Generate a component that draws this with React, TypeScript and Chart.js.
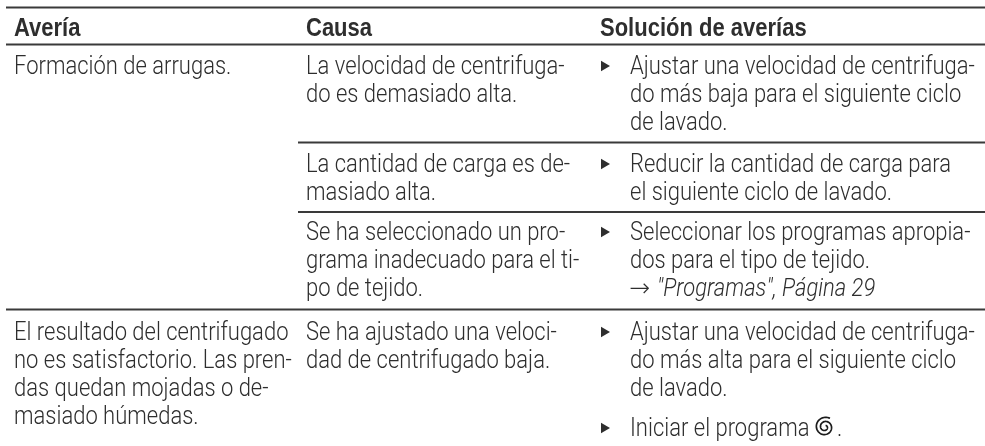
import React, { useEffect, useRef } from "react";
import { Chart, registerables } from "chart.js";

Chart.register(...registerables);

const headers = ["Avería", "Causa", "Solución de averías"];
const faultA = ["Formación de arrugas."];
const faultB = [
  "El resultado del centrifugado",
  "no es satisfactorio. Las pren-",
  "das quedan mojadas o de-",
  "masiado húmedas.",
];
const causes = [
  ["La velocidad de centrifuga-", "do es demasiado alta."],
  ["La cantidad de carga es de-", "masiado alta."],
  ["Se ha seleccionado un pro-", "grama inadecuado para el ti-", "po de tejido."],
  ["Se ha ajustado una veloci-", "dad de centrifugado baja."],
];
const fixes = [
  ["Ajustar una velocidad de centrifuga-", "do más baja para el siguiente ciclo", "de lavado."],
  ["Reducir la cantidad de carga para", "el siguiente ciclo de lavado."],
  ["Seleccionar los programas apropia-", "dos para el tipo de tejido."],
  ["Ajustar una velocidad de centrifuga-", "do más alta para el siguiente ciclo", "de lavado."],
  ["Iniciar el programa"],
];
const crossRef = "\"Programas\", Página 29";
const arrow = "→";

const RULE_COLOR = "#3a3a3a";
const TEXT_COLOR = "#2e2e2e";
const LIGHT = "300 25px Roboto";
const BOLD = "700 25px 'Liberation Sans', Arial";
const ITALIC = "italic 300 25px Roboto";
const ARROW_FONT = "200 25px 'DejaVu Sans'";
const SX_LIGHT = 0.88;
const SX_BOLD = 0.88;
const LH = 28;
const COLS = [14, 306, 630];
const HEAD_X = [14, 306, 600];
const BULLET_X = 604;
const BASE = [74, 172, 240, 340, 436];

function App() {
  const ref = useRef<HTMLCanvasElement>(null);
  useEffect(() => {
    document.body.style.margin = "0";
    const text = (c: any, s: string, x: number, y: number, font: string, sx: number) => {
      const ctx = c.ctx;
      const px = c.scales.x.getPixelForValue(x);
      const py = c.scales.y.getPixelForValue(y);
      ctx.save();
      ctx.font = font;
      ctx.fillStyle = TEXT_COLOR;
      ctx.textBaseline = "alphabetic";
      ctx.translate(px, py);
      ctx.scale(sx, 1);
      ctx.fillText(s, 0, 0);
      ctx.restore();
    };
    const block = (c: any, lines: string[], x: number, y: number) =>
      lines.forEach((s, i) => text(c, s, x, y + i * LH, LIGHT, SX_LIGHT));
    const tablePlugin = {
      id: "tableText",
      afterDatasetsDraw(c: any) {
        headers.forEach((h, i) => text(c, h, HEAD_X[i], 36, BOLD, SX_BOLD));
        block(c, faultA, COLS[0], BASE[0]);
        block(c, faultB, COLS[0], BASE[3]);
        causes.forEach((l, i) => block(c, l, COLS[1], BASE[i]));
        fixes.forEach((l, i) => block(c, l, COLS[2], BASE[i]));
        text(c, arrow, COLS[2] - 1, BASE[2] + 2 * LH, ARROW_FONT, 1);
        text(c, crossRef, 657, BASE[2] + 2 * LH, ITALIC, SX_LIGHT);
        const ctx = c.ctx;
        const cx = c.scales.x.getPixelForValue(825);
        const cy = c.scales.y.getPixelForValue(BASE[4] - 9);
        ctx.save();
        ctx.strokeStyle = "#1c1c1c";
        ctx.lineWidth = 1.7;
        ctx.beginPath();
        const turns = 2.05;
        for (let t = 0; t <= 1; t += 0.01) {
          const a = -Math.PI / 3 - t * turns * 2 * Math.PI;
          const r = 10 - t * 8.5;
          const x = cx + r * Math.cos(a);
          const y = cy + r * Math.sin(a);
          if (t === 0) ctx.moveTo(x, y);
          else ctx.lineTo(x, y);
        }
        ctx.stroke();
        ctx.restore();
        text(c, ".", 837, BASE[4], LIGHT, SX_LIGHT);
      },
    };
    const rule = (x0: number, x1: number, y: number) => ({
      type: "line" as const,
      data: [{ x: x0, y }, { x: x1, y }],
      borderColor: RULE_COLOR,
      borderWidth: 2,
      pointRadius: 0,
    });
    const chart = new Chart(ref.current!, {
      type: "scatter",
      data: {
        datasets: [
          rule(6, 985, 7.5),
          rule(6, 985, 44.5),
          rule(298, 985, 142.5),
          rule(298, 985, 212),
          rule(6, 985, 309.5),
          {
            data: BASE.map((y) => ({ x: BULLET_X, y: y - 8 })),
            pointStyle: "triangle",
            rotation: 90,
            pointRadius: 6,
            backgroundColor: TEXT_COLOR,
            borderWidth: 0,
            showLine: false,
          } as any,
        ],
      },
      options: {
        animation: false,
        responsive: false,
        layout: { padding: 0, autoPadding: false },
        plugins: { legend: { display: false }, tooltip: { enabled: false } },
        scales: {
          x: { type: "linear", display: false, min: 0, max: 985 },
          y: { type: "linear", display: false, min: 0, max: 446, reverse: true },
        },
      },
      plugins: [tablePlugin],
    });
    return () => chart.destroy();
  }, []);
  return <canvas ref={ref} width={985} height={446} style={{ display: "block" }} />;
}

export default App;
